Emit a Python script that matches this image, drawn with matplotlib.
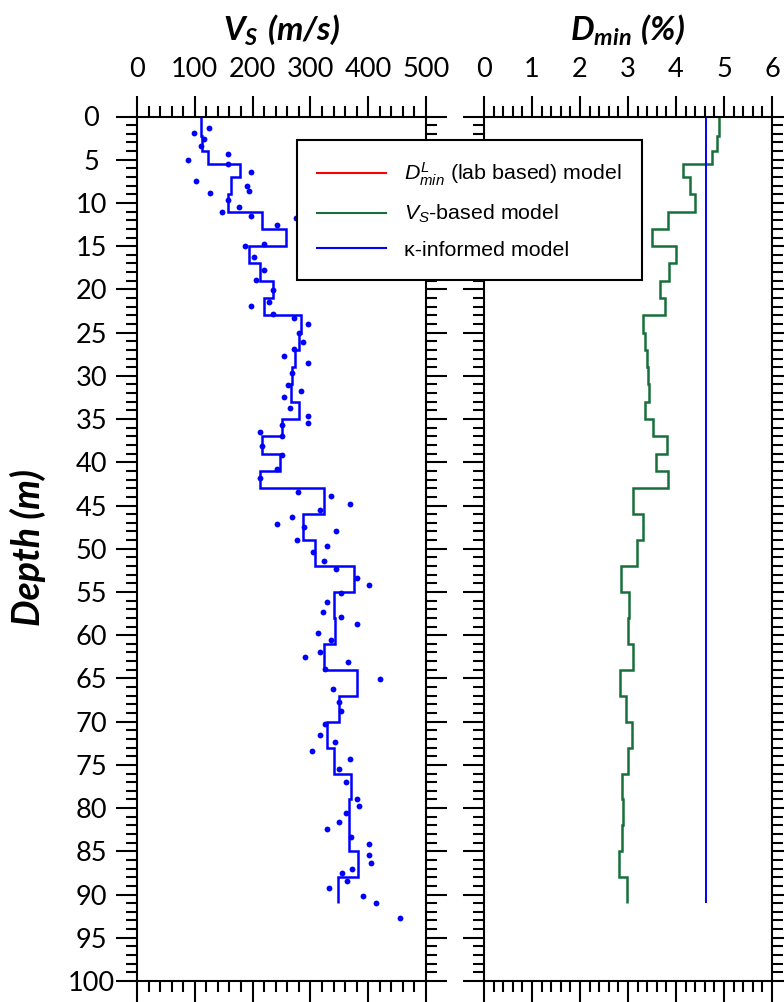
import matplotlib
matplotlib.use("Agg")
import matplotlib.pyplot as plt
from matplotlib.ticker import MultipleLocator
from matplotlib.lines import Line2D

# ---- layered profile (layer edges in m) ----
layer_edges = [0, 2.3, 4, 5.5, 7, 9, 11, 13, 15, 17, 19, 21, 23, 25, 27, 29, 31,
               33, 35, 37, 39, 41, 43, 46, 49, 52, 55, 58, 61, 64, 67, 70, 73,
               76, 79, 82, 85, 88, 91]

# Vs of each layer (m/s)
vs_layers = [110, 112, 122, 178, 162, 157, 217, 258, 194, 213, 236, 220, 284,
             280, 273, 269, 266, 280, 251, 217, 248, 213, 324, 288, 308, 376,
             340, 343, 324, 380, 350, 328, 340, 370, 366, 367, 383, 348]

# Dmin of each layer from the Vs-based model (%)
dmin_vs_layers = [4.90, 4.86, 4.76, 4.14, 4.29, 4.40, 3.83, 3.50, 4.00, 3.85,
                  3.67, 3.77, 3.32, 3.35, 3.39, 3.42, 3.44, 3.35, 3.53, 3.81,
                  3.58, 3.84, 3.10, 3.31, 3.18, 2.85, 3.02, 3.00, 3.11, 2.83,
                  2.96, 3.08, 3.01, 2.875, 2.90, 2.88, 2.81, 2.98]

# kappa-informed Dmin (%), constant with depth
dmin_kappa = 4.63

# ---- measured Vs points ----
obs_depth = [1.37, 1.9, 2.6, 3.4, 4.3, 5.0, 5.5, 6.4, 7.5, 8.0, 8.6, 8.9, 9.65,
             10.5, 11.1, 11.5, 11.7, 12.5, 14.7, 15.0, 16.2, 17.7, 18.9, 20.1,
             21.5, 21.9, 22.8, 23.3, 24.0, 25.0, 26.1, 26.9, 27.7, 28.5, 29.7,
             31.1, 31.8, 32.5, 33.7, 34.6, 35.5, 35.7, 36.5, 36.9, 38.1, 39.1,
             40.75, 41.8, 43.4, 43.9, 44.8, 45.5, 46.3, 47.1, 47.5, 47.9, 49.0,
             49.7, 50.4, 51.4, 52.4, 53.4, 54.2, 55.1, 56.2, 57.3, 57.9, 58.7,
             59.7, 60.6, 61.9, 62.5, 63.1, 63.9, 65.1, 66.2, 67.7, 68.8, 70.3,
             71.6, 72.3, 73.4, 74.3, 75.5, 77.0, 78.9, 79.8, 80.6, 81.6, 82.4,
             83.3, 84.1, 85.4, 86.4, 87.0, 87.5, 88.4, 89.2, 90.2, 91.0, 92.7]
obs_vs = [124, 98.6, 116, 110, 157, 88, 157, 198, 102, 190, 194, 127, 157,
          176, 146.5, 198, 275, 242, 220, 187, 202, 220, 206, 235,
          228, 198, 235, 272, 295, 280, 287, 272, 254, 295, 269,
          262, 284, 254, 265, 295, 295, 251, 213, 251, 217, 251,
          243, 213, 279, 336, 369, 317, 268, 243, 289.5, 345, 276,
          328, 305, 324, 345, 381, 402, 353, 328, 321, 353, 380,
          313, 336, 317, 291, 364.5, 325, 420, 339, 350, 353, 325,
          317, 342.5, 302, 369, 350, 361.6, 380, 383.6, 361, 350, 328,
          371, 402, 402, 405, 372.5, 354, 364, 332, 391, 413, 454.5]

legend_labels = [r"$D^{L}_{min}$ (lab based) model",
                 r"$V_S$-based model",
                 "\u03ba-informed model"]

BLUE = "#0000ff"
GREEN = "#17703b"
RED = "#ff0000"

plt.rcParams["font.family"] = ["Lato", "DejaVu Sans"]
plt.rcParams["mathtext.fontset"] = "custom"
plt.rcParams["mathtext.it"] = "Liberation Sans:italic"
plt.rcParams["mathtext.rm"] = "Liberation Sans"
plt.rcParams["mathtext.bf"] = "Lato:bold:italic"

W, H = 784, 1002
fig = plt.figure(figsize=(W / 100, H / 100), dpi=100)

ax_bottom = 1 - 981 / H
ax_height = 864.5 / H
ax1 = fig.add_axes([137 / W, ax_bottom, 289 / W, ax_height])
ax2 = fig.add_axes([484 / W, ax_bottom, 288 / W, ax_height])

# Vs panel
ax1.stairs(vs_layers, layer_edges, orientation="horizontal", baseline=None,
           color=BLUE, lw=1.8)
ax1.plot(obs_vs, obs_depth, "o", color=BLUE, ms=4.2, mec="none")

# Dmin panel
ax2.stairs(dmin_vs_layers, layer_edges, orientation="horizontal", baseline=None,
           color=GREEN, lw=1.8)
ax2.stairs([dmin_kappa], [layer_edges[0], layer_edges[-1]],
           orientation="horizontal", baseline=None, color=BLUE, lw=1.4)

ax1.set_xlim(0, 500)
ax2.set_xlim(0, 6)
ax1.xaxis.set_major_locator(MultipleLocator(100))
ax1.xaxis.set_minor_locator(MultipleLocator(20))
ax2.xaxis.set_major_locator(MultipleLocator(1))
ax2.xaxis.set_minor_locator(MultipleLocator(0.2))

for ax in (ax1, ax2):
    ax.set_ylim(100, 0)
    ax.yaxis.set_major_locator(MultipleLocator(5))
    ax.yaxis.set_minor_locator(MultipleLocator(1))
    for sp in ax.spines.values():
        sp.set_linewidth(1.5)
    ax.tick_params(which="both", direction="out", top=True, bottom=True,
                   left=True, right=True, labeltop=True, labelbottom=False,
                   labelright=False, width=1.5)
    ax.tick_params(which="major", length=15)
    ax.tick_params(which="minor", length=8)
    ax.tick_params(axis="x", labelsize=19.5, pad=10)
    ax.tick_params(axis="y", labelsize=19.5)

ax1.tick_params(axis="y", pad=18)
ax2.tick_params(axis="y", labelleft=False)
for lbl in ax1.get_yticklabels():
    lbl.set_horizontalalignment("center")

# titles and depth label
fig.text(281.5 / W, 1 - 30 / H, r"$\mathbf{V_S\ (m/s)}$", ha="center",
         va="center", fontsize=24)
fig.text(628 / W, 1 - 30 / H, r"$\mathbf{D_{min}\ (\%)}$", ha="center",
         va="center", fontsize=24)
fig.text(28 / W, 1 - 548 / H, "Depth (m)", rotation=90, ha="center",
         va="center", fontsize=27, fontweight="bold", fontstyle="italic")

handles = [Line2D([], [], color=RED, lw=1.5),
           Line2D([], [], color=GREEN, lw=1.5),
           Line2D([], [], color=BLUE, lw=1.5)]
leg = fig.legend(handles, legend_labels, loc="upper left",
                 bbox_to_anchor=(297 / W, 1 - 140 / H),
                 prop={"family": "Liberation Sans", "size": 15.4},
                 frameon=True, fancybox=False, framealpha=1, edgecolor="black",
                 borderpad=0.95, handlelength=3.2, handletextpad=0.85,
                 labelspacing=0.72, borderaxespad=0)
leg.get_frame().set_linewidth(1.5)

fig.savefig("out.png", dpi=100)
